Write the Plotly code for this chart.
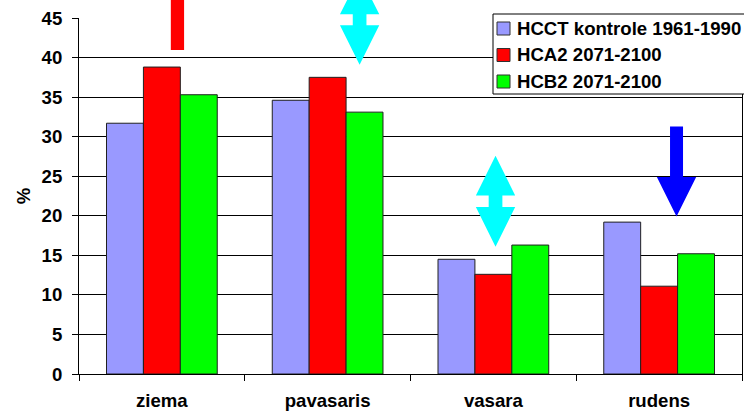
import plotly.graph_objects as go

# Seasonal shares (%) per scenario
categories = ["ziema", "pavasaris", "vasara", "rudens"]
series_names = ["HCCT kontrole 1961-1990", "HCA2 2071-2100", "HCB2 2071-2100"]
hcct_1961_1990 = [31.7, 34.6, 14.5, 19.2]
hca2_2071_2100 = [38.8, 37.5, 12.6, 11.1]
hcb2_2071_2100 = [35.3, 33.1, 16.3, 15.2]
y_tick_values = [0, 5, 10, 15, 20, 25, 30, 35, 40, 45]

series_values = [hcct_1961_1990, hca2_2071_2100, hcb2_2071_2100]
series_colors = ["#9999FF", "#FF0000", "#00FF00"]

W, H = 744, 413
ML, MR, MT, MB = 79, 2, 18, 39
Y_MAX = 45
FONT = "Liberation Sans, Arial, sans-serif"
FS = 18.6

fig = go.Figure()
for name, vals, col in zip(series_names, series_values, series_colors):
    fig.add_trace(go.Bar(
        x=categories, y=vals, name=name,
        marker=dict(color=col, line=dict(color="#202020", width=1)),
        showlegend=False,
    ))

n_cat = len(categories)


def xp(i, dx=0.0):
    """Paper x for category index i shifted by dx category widths."""
    return (i + 0.5 + dx) / n_cat


def yp(v):
    return v / Y_MAX


def single_arrow(i, dx, tail, base, tip, color, hw=0.1186, sw=0.04):
    pts = [(xp(i, dx - sw), yp(tail)), (xp(i, dx + sw), yp(tail)),
           (xp(i, dx + sw), yp(base)), (xp(i, dx + hw), yp(base)),
           (xp(i, dx), yp(tip)), (xp(i, dx - hw), yp(base)),
           (xp(i, dx - sw), yp(base))]
    path = "M" + " L".join(f"{x:.5f},{y:.5f}" for x, y in pts) + " Z"
    fig.add_shape(type="path", path=path, xref="paper", yref="paper",
                  fillcolor=color, line=dict(width=0), layer="above")


def double_arrow(i, dx, tip_top, base_top, base_bot, tip_bot, color,
                 hw=0.1186, sw=0.0413):
    pts = [(xp(i, dx), yp(tip_top)), (xp(i, dx + hw), yp(base_top)),
           (xp(i, dx + sw), yp(base_top)), (xp(i, dx + sw), yp(base_bot)),
           (xp(i, dx + hw), yp(base_bot)), (xp(i, dx), yp(tip_bot)),
           (xp(i, dx - hw), yp(base_bot)), (xp(i, dx - sw), yp(base_bot)),
           (xp(i, dx - sw), yp(base_top)), (xp(i, dx - hw), yp(base_top))]
    path = "M" + " L".join(f"{x:.5f},{y:.5f}" for x, y in pts) + " Z"
    fig.add_shape(type="path", path=path, xref="paper", yref="paper",
                  fillcolor=color, line=dict(width=0), layer="above")


# Trend arrows above each season
single_arrow(0, 0.094, 40.96, 48.5, 53.5, "#FF0000")
double_arrow(1, 0.193, 50.4, 45.47, 44.07, 39.1, "#00FFFF")
double_arrow(2, 0.013, 27.6, 22.55, 21.1, 16.09, "#00FFFF")
single_arrow(3, 0.105, 31.3, 24.9, 19.92, "#0000FF", sw=0.0392)

# Legend box drawn in pixel space
plot_w = W - ML - MR
plot_h = H - MT - MB


def px_x(px):
    return (px - ML) / plot_w


def px_y(py):
    return (H - MB - py) / plot_h


fig.add_shape(type="rect", xref="paper", yref="paper",
              x0=px_x(493), x1=px_x(746), y0=px_y(94), y1=px_y(14),
              fillcolor="white", line=dict(color="black", width=1), layer="above")
row_centers = [28.5, 55.0, 81.5]
for name, col, rc in zip(series_names, series_colors, row_centers):
    fig.add_shape(type="rect", xref="paper", yref="paper",
                  x0=px_x(497), x1=px_x(510), y0=px_y(rc + 6.5), y1=px_y(rc - 6.5),
                  fillcolor=col, line=dict(color="#303030", width=1), layer="above")
    fig.add_annotation(x=px_x(515), y=px_y(rc), xref="paper", yref="paper",
                       text=name, showarrow=False, xanchor="left", yanchor="middle",
                       font=dict(family=FONT, size=FS, color="black", weight="bold"))

fig.update_layout(
    width=W, height=H,
    margin=dict(l=ML, r=MR, t=MT, b=MB, autoexpand=False),
    paper_bgcolor="white", plot_bgcolor="white",
    barmode="group", bargap=0.332, bargroupgap=0,
    font=dict(family=FONT, size=FS, color="black", weight="bold"),
    showlegend=False,
)
fig.update_xaxes(
    type="category", showline=True, linecolor="black", linewidth=1,
    ticks="outside", tickson="boundaries", ticklen=6, tickcolor="black",
    showgrid=False, ticklabelstandoff=10, automargin=False,
    tickfont=dict(family=FONT, size=FS, color="black", weight="bold"),
)
fig.update_yaxes(
    range=[0, Y_MAX], tickvals=y_tick_values, showline=True, mirror=True,
    linecolor="black", linewidth=1, ticks="outside", ticklen=6, tickcolor="black",
    showgrid=True, gridcolor="black", gridwidth=1, zeroline=False,
    ticklabelstandoff=6, automargin=False,
    tickfont=dict(family=FONT, size=FS, color="black", weight="bold"),
    title=dict(text="%", standoff=6,
               font=dict(family=FONT, size=FS, color="black", weight="bold")),
)

fig.write_html("out.html")
